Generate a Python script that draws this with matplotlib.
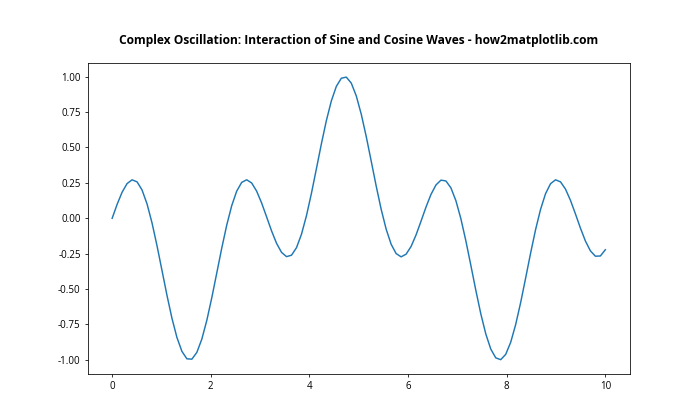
import numpy as np
import matplotlib
matplotlib.use("Agg")
import matplotlib.pyplot as plt

plt.rcParams['font.family'] = ['Open Sans', 'DejaVu Sans']

# 100 evenly spaced samples on [0, 10]
x = np.linspace(0, 10, 100)
y = [
    0.0000, 0.0988, 0.1845, 0.2453, 0.2717, 0.2573, 0.1999, 0.1016, -0.0324, -0.1932,
    -0.3680, -0.5434, -0.7057, -0.8414, -0.9396, -0.9923, -0.9949, -0.9471, -0.8532, -0.7208,
    -0.5607, -0.3862, -0.2105, -0.0482, 0.0891, 0.1917, 0.2534, 0.2720, 0.2496, 0.1920,
    0.1083, 0.0103, -0.0891, -0.1767, -0.2406, -0.2708, -0.2607, -0.2077, -0.1131, 0.0178,
    0.1760, 0.3499, 0.5258, 0.6900, 0.8291, 0.9316, 0.9891, 0.9969, 0.9546, 0.8648,
    0.7356, 0.5778, 0.4041, 0.2280, 0.0637, -0.0765, -0.1832, -0.2491, -0.2722, -0.2536,
    -0.1993, -0.1177, -0.0206, 0.0793, 0.1688, 0.2353, 0.2694, 0.2637, 0.2149, 0.1246,
    -0.0030, -0.1589, -0.3318, -0.5082, -0.6744, -0.8165, -0.9232, -0.9856, -0.9984, -0.9609,
    -0.8758, -0.7504, -0.5950, -0.4222, -0.2456, -0.0795, 0.0637, 0.1740, 0.2443, 0.2718,
    0.2573, 0.2062, 0.1269, 0.0308, -0.0694, -0.1605, -0.2300, -0.2677, -0.2662, -0.2220,
]

fig, ax = plt.subplots(figsize=(10, 6), dpi=70)
fig.subplots_adjust(left=0.125, right=0.9, top=0.85, bottom=0.11)
ax.plot(x, y, color='#1f77b4', linewidth=1.5)
ax.set_title("Complex Oscillation: Interaction of Sine and Cosine Waves - how2matplotlib.com",
             fontsize=12.4, fontweight='bold', pad=20)
ax.set_yticks([-1.0, -0.75, -0.5, -0.25, 0.0, 0.25, 0.5, 0.75, 1.0])
ax.set_yticklabels(["-1.00", "-0.75", "-0.50", "-0.25", "0.00", "0.25", "0.50", "0.75", "1.00"])
fig.savefig("out.png")
